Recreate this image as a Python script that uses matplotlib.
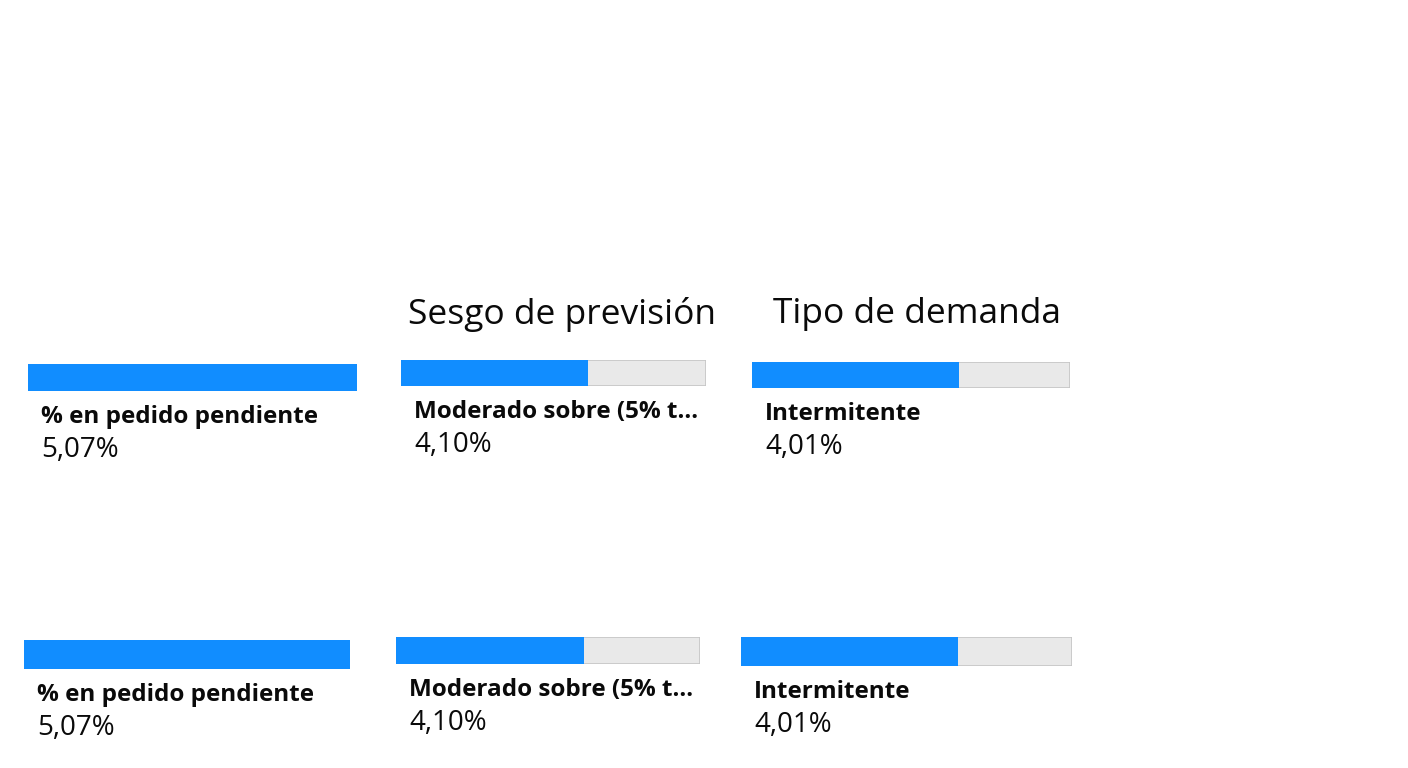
import matplotlib.pyplot as plt

# data
titles = ['', 'Sesgo de previsión', 'Tipo de demanda']
labels = ['% en pedido pendiente', 'Moderado sobre (5% t...', 'Intermitente']
values = [5.07, 4.10, 4.01]
fill_top = [1.0, 0.613, 0.651]
fill_bottom = [1.0, 0.618, 0.656]

# layout in pixels (left, top, right, bottom) of every bar
W, H = 1408, 768
boxes_top = [(28, 364, 357, 391), (401, 360, 706, 386), (752, 362, 1070, 388)]
boxes_bottom = [(24, 640, 350, 669), (396, 637, 700, 664), (741, 637, 1072, 666)]
title_pos = [(0, 0), (562, 314), (917, 314)]

BLUE = '#118DFF'
GREY = '#E9E9E9'
EDGE = '#C6C6C6'

plt.rcParams['font.family'] = ['Open Sans', 'DejaVu Sans']

fig = plt.figure(figsize=(W / 100, H / 100), dpi=100)
fig.patch.set_facecolor('white')


def px(x, y):
    return x / W, 1 - y / H


def draw_card(box, frac, label, value):
    x0, y0, x1, y1 = box
    ax = fig.add_axes([x0 / W, 1 - y1 / H, (x1 - x0) / W, (y1 - y0) / H])
    ax.barh(0.5, 1, height=1, color=GREY, edgecolor=EDGE, linewidth=1.2)
    ax.barh(0.5, frac, height=1, color=BLUE, zorder=3)
    ax.set_xlim(0, 1)
    ax.set_ylim(0, 1)
    ax.axis('off')
    fig.text(*px(x0 + 13, y1 + 26), label, fontsize=17.5, fontweight='bold',
             color='#0a0a0a', va='center', ha='left')
    fig.text(*px(x0 + 13, y1 + 59), f'{value:.2f}%'.replace('.', ','),
             fontsize=20, color='#0a0a0a', va='center', ha='left')


for i in range(3):
    draw_card(boxes_top[i], fill_top[i], labels[i], values[i])
    draw_card(boxes_bottom[i], fill_bottom[i], labels[i], values[i])
    if titles[i]:
        fig.text(*px(*title_pos[i]), titles[i], fontsize=25.5, color='#0a0a0a',
                 va='center', ha='center')

fig.savefig('out.png', dpi=100)
